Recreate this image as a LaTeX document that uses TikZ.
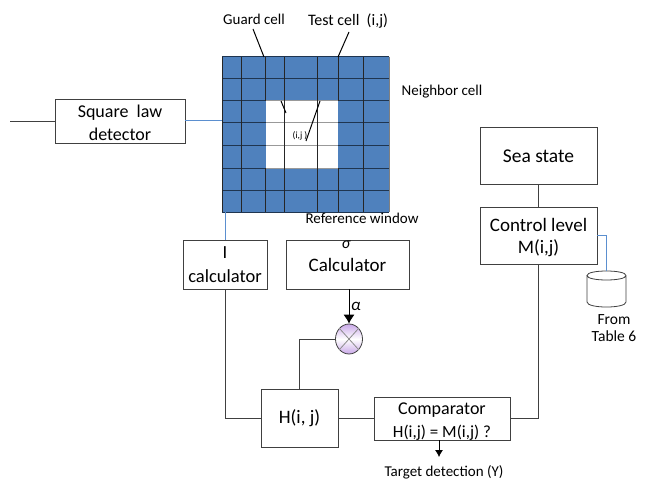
\documentclass[tikz,border=0pt]{standalone}
\usepackage{fontspec}
\setmainfont{Carlito}
\usepackage{tikz}
\usetikzlibrary{arrows.meta,positioning,shapes.geometric,calc}
\definecolor{Cell}{HTML}{4F81BD}
\definecolor{Rule}{HTML}{1F3550}
\definecolor{Wire}{HTML}{404040}
\definecolor{Link}{HTML}{5B8FCF}
\definecolor{Lilac}{HTML}{C9A8E8}
\newcommand{\lowered}[2]{\raisebox{-#1}[\height][\depth]{#2}}
\tikzset{
 block/.style={draw=Wire,fill=white,thick,align=center,inner sep=0pt,font=\fontsize{19}{22}\selectfont},
 wide/.style={block,minimum width=117pt,minimum height=57pt},
 tag/.style={font=\fontsize{15}{17}\selectfont,align=center,inner sep=0pt},
 wire/.style={draw=Wire,thick},
 link/.style={draw=Link,line width=1pt},
 leader/.style={draw=black,line width=1pt},
 arr/.style={-{Latex[length=7pt,width=8pt]},draw=black,thick}
}
\begin{document}
\begin{tikzpicture}[x=1pt,y=-1pt]
\useasboundingbox (0,0) rectangle (652,481);
% reference window
\node[fill=Cell,minimum width=167pt,minimum height=155pt,inner sep=0pt] (window) at (305.5,134.5) {};
\node[fill=white,minimum width=72pt,minimum height=67pt,inner sep=0pt] (hole) at (302,134.5) {};
\foreach \y in {57,79,101,123,146,168,190,212} \draw[Rule,line width=1pt] (222,\y)--(389,\y);
\foreach \y in {101,123,146,168} \draw[black!40,line width=1pt] (266,\y)--(338,\y);
\foreach \x in {222,241,284,317,363} \draw[black!85] (\x,57)--(\x,212);
\foreach \x in {265,338} \draw[black!85] (\x,57)--(\x,101) (\x,168)--(\x,212);
\draw[black!50] (389,57)--(389,212);
\node[tag] (guard) at (254,19) {Guard cell};
\node[tag,font=\fontsize{16}{18}\selectfont] (test) at (348,21) {Test cell\ \ (i,j)};
\node[tag] (neighbor) at (442,92) {Neighbor cell};
\node[tag] (reference) at (362,218) {Reference window};
\node[font=\fontsize{9.5}{11}\selectfont,inner sep=0pt] (cellij) at (300,136) {(i,j )};
\coordinate (g0) at (253,29);
\coordinate (g1) at (264,57);
\coordinate (g2) at (281,101);
\coordinate (g3) at (286,113);
\coordinate (t0) at (349,32);
\coordinate (t1) at (338,57);
\coordinate (t2) at (320,101);
\coordinate (t3) at (306,141);
\foreach \a/\b in {g0/g1,g2/g3,t0/t1,t2/t3} \draw[leader] (\a)--(\b);
% blocks
\node[block,font=\fontsize{18}{22.5}\selectfont,minimum width=130pt,minimum height=44pt] (detector) at (120,121) {\lowered{2pt}{Square\ \ law}\\\lowered{2pt}{detector}};
\node[block,font=\fontsize{18.5}{24}\selectfont,minimum width=84pt,minimum height=49pt] (icalc) at (225,264.5) {I\\calculator};
\node[block,minimum width=123pt,minimum height=49pt] (sigmacalc) at (347.5,264.5) {Calculator};
\node[tag,font=\fontsize{16}{16}\itshape\selectfont] (sigma) at (346,245) {σ};
\node[wide,font=\fontsize{19.5}{22}\selectfont] (sea) at (538.5,156) {Sea state};
\node[wide] (control) at (538.5,235.5) {\lowered{2pt}{Control level}\\\lowered{2pt}{M(i,j)}};
\node[minimum width=39pt,minimum height=36pt,inner sep=0pt] (table) at (606.5,289) {};
\draw[wire,fill=white] (587,275.5) -- (587,302) .. controls (587,308.7) and (626,308.7) .. (626,302) -- (626,275.5)
  .. controls (626,269.5) and (587,269.5) .. (587,275.5) .. controls (587,281.5) and (626,281.5) .. (626,275.5);
\node[tag,font=\fontsize{15.5}{17}\selectfont] (from) at (614,328) {From\\Table 6};
\node[ellipse,draw=Wire,thick,minimum width=27pt,minimum height=30pt,inner sep=0pt,top color=Lilac,bottom color=Lilac,middle color=white] (mixer) at (349,339) {};
\draw[black!45,thick] (mixer.north west)--(mixer.south east) (mixer.north east)--(mixer.south west);
\node[font=\fontsize{17}{17}\itshape\selectfont,inner sep=0pt] (alpha) at (356,306) {α};
\node[block,minimum width=77pt,minimum height=58pt] (hblock) at (299.5,418) {H(i, j)};
\node[block,font=\fontsize{18}{23}\selectfont,minimum width=136pt,minimum height=43pt] (comparator) at (442,418.5) {\lowered{3pt}{Comparator}\\\lowered{3pt}{\fontsize{17}{23}\selectfont H(i,j) = M(i,j) ?}};
\node[tag] (target) at (444,472.5) {Target detection (Y)};
\coordinate (input) at (10,121);
% connectors
\draw[wire] (input)--(detector);
\draw[link] (detector.east)--(detector.east-|window.west);
\draw[link] (icalc.north)--(icalc.north|-window.south);
\draw[wire] (icalc.south)|-(hblock.west);
\draw[arr,{-{Latex[length=9pt,width=11pt]}}] (sigmacalc.south-|mixer.north)--(mixer.north);
\draw[wire] (mixer.west)-|(hblock.north);
\draw[wire] (hblock.east)--(hblock.east-|comparator.west);
\draw[wire] (comparator.east|-hblock.east)-|(control.south);
\draw[wire] (sea)--(control);
\draw[link] (control.east)-|(table.north);
\draw[arr] (comparator.south-|439,0)--(439,457);
\end{tikzpicture}
\end{document}
